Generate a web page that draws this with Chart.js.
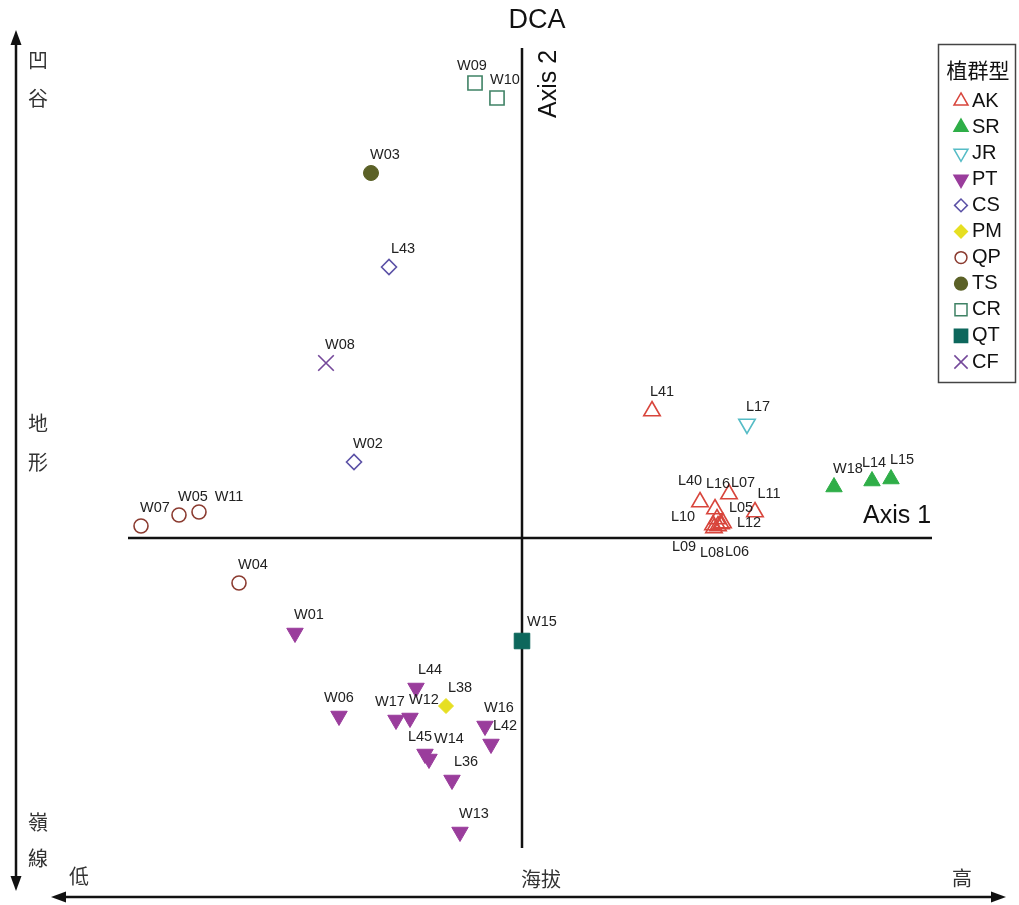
<!DOCTYPE html>
<html lang="zh-Hant">
<head>
<meta charset="UTF-8">
<title>DCA</title>
<script src="https://cdn.jsdelivr.net/npm/chart.js"></script>
<style>
  body { margin: 0; background: #fff; }
  .box { width: 1019px; height: 905px; position: relative; }
</style>
</head>
<body>
<div class="box"><canvas id="grafico_dca"></canvas></div>
<script>
// vegetation types (legend order)
var grupos = ['AK', 'SR', 'JR', 'PT', 'CS', 'PM', 'QP', 'TS', 'CR', 'QT', 'CF'];

// sample plots, their type and the two DCA scores
var parcelas = ['L41', 'L40', 'L16', 'L07', 'L11', 'L05', 'L12', 'L10', 'L09', 'L08', 'L06',
  'W18', 'L14', 'L15', 'L17',
  'W01', 'W06', 'W17', 'W12', 'L44', 'W16', 'L42', 'L45', 'W14', 'L36', 'W13',
  'L43', 'W02', 'L38', 'W07', 'W05', 'W11', 'W04', 'W03', 'W09', 'W10', 'W15', 'W08'];
var tipo = ['AK', 'AK', 'AK', 'AK', 'AK', 'AK', 'AK', 'AK', 'AK', 'AK', 'AK',
  'SR', 'SR', 'SR', 'JR',
  'PT', 'PT', 'PT', 'PT', 'PT', 'PT', 'PT', 'PT', 'PT', 'PT', 'PT',
  'CS', 'CS', 'PM', 'QP', 'QP', 'QP', 'QP', 'TS', 'CR', 'CR', 'QT', 'CF'];
var eixo1 = [1.30, 1.78, 1.93, 2.07, 2.33, 1.95, 2.01, 1.91, 1.92, 1.96, 1.99,
  3.12, 3.50, 3.69, 2.25,
  -2.27, -1.83, -1.26, -1.12, -1.06, -0.37, -0.31, -0.97, -0.93, -0.70, -0.62,
  -1.33, -1.68, -0.76, -3.81, -3.43, -3.23, -2.83, -1.51, -0.47, -0.25, 0.00, -1.96];
var eixo2 = [1.27, 0.36, 0.29, 0.44, 0.26, 0.19, 0.15, 0.13, 0.10, 0.12, 0.14,
  0.51, 0.57, 0.59, 1.14,
  -0.95, -1.78, -1.82, -1.80, -1.50, -1.88, -2.06, -2.16, -2.21, -2.42, -2.94,
  2.71, 0.76, -1.68, 0.12, 0.23, 0.26, -0.45, 3.65, 4.55, 4.40, -1.03, 1.75];

// marker look per type
var estilos = {
  AK: { ps: 'triangle', rot: 0, r: 9.5, cor: '#d8453c', cheio: false },
  SR: { ps: 'triangle', rot: 0, r: 9.5, cor: '#2fae48', cheio: true },
  JR: { ps: 'triangle', rot: 180, r: 9.5, cor: '#56bcc6', cheio: false },
  PT: { ps: 'triangle', rot: 180, r: 9.5, cor: '#9a3d9c', cheio: true },
  CS: { ps: 'rectRot', rot: 0, r: 7.5, cor: '#5b51a6', cheio: false },
  PM: { ps: 'rectRot', rot: 0, r: 7.5, cor: '#e6df22', cheio: true },
  QP: { ps: 'circle', rot: 0, r: 7, cor: '#8b3b30', cheio: false },
  TS: { ps: 'circle', rot: 0, r: 7.5, cor: '#5b6127', cheio: true },
  CR: { ps: 'rect', rot: 0, r: 10, cor: '#3f8265', cheio: false },
  QT: { ps: 'rect', rot: 0, r: 11, cor: '#0d675c', cheio: true },
  CF: { ps: 'crossRot', rot: 0, r: 11, cor: '#74489a', cheio: false }
};

// label nudges (label centre relative to the marker), default below
var deslocPadrao = [14, -18];
var desloc = {
  L40: [-10, -21], L16: [3, -25], L07: [14, -11], L05: [24, -11], L12: [26, 0],
  L10: [-30, -8], L09: [-30, 19], L08: [-6, 27], L06: [16, 28],
  L14: [2, -18], L15: [11, -19], L41: [10, -19], L17: [11, -17],
  W11: [30, -15], W06: [0, -18], W17: [-6, -18], W15: [20, -19],
  W09: [-3, -17], W10: [8, -18], L45: [-5, -17], W14: [20, -20]
};

var datasets = [];
grupos.forEach(function (g) {
  var e = estilos[g];
  var pts = [];
  for (var i = 0; i < parcelas.length; i++) {
    if (tipo[i] == g) pts.push({ x: eixo1[i], y: eixo2[i], nome: parcelas[i] });
  }
  datasets.push({
    type: 'scatter',
    label: g,
    data: pts,
    order: 0,
    pointStyle: e.ps,
    rotation: e.rot,
    pointRadius: e.r,
    pointHoverRadius: e.r,
    backgroundColor: e.cheio ? e.cor : 'rgba(0,0,0,0)',
    borderColor: e.cor,
    borderWidth: e.cheio ? 1 : 1.6
  });
});
// the two ordination axes
datasets.push({
  type: 'line', label: 'Axis 1', order: 1,
  data: [{ x: -3.94, y: 0 }, { x: 4.10, y: 0 }],
  borderColor: '#111', borderWidth: 2.5, pointRadius: 0
});
datasets.push({
  type: 'line', label: 'Axis 2', order: 1,
  data: [{ x: 0, y: 4.90 }, { x: 0, y: -3.10 }],
  borderColor: '#111', borderWidth: 2.5, pointRadius: 0
});

function seta(ctx, x1, y1, x2, y2) {
  var a = Math.atan2(y2 - y1, x2 - x1);
  ctx.beginPath();
  ctx.moveTo(x2, y2);
  ctx.lineTo(x2 - 15 * Math.cos(a) + 5.5 * Math.sin(a), y2 - 15 * Math.sin(a) - 5.5 * Math.cos(a));
  ctx.lineTo(x2 - 15 * Math.cos(a) - 5.5 * Math.sin(a), y2 - 15 * Math.sin(a) + 5.5 * Math.cos(a));
  ctx.closePath();
  ctx.fill();
}

var plugin_desenho = {
  id: 'desenho',
  afterDatasetsDraw: function (chart) {
    var ctx = chart.ctx;
    ctx.save();
    // site labels
    ctx.font = '14.5px "Liberation Sans", Arial, sans-serif';
    ctx.fillStyle = '#222';
    ctx.textAlign = 'center';
    ctx.textBaseline = 'middle';
    chart.data.datasets.forEach(function (ds, di) {
      if (ds.type != 'scatter') return;
      var meta = chart.getDatasetMeta(di);
      meta.data.forEach(function (el, k) {
        var nome = ds.data[k].nome;
        var d = desloc[nome] || deslocPadrao;
        ctx.fillText(nome, el.x + d[0], el.y + d[1]);
      });
    });

    // titles of the axes
    ctx.fillStyle = '#111';
    ctx.font = '27px "Liberation Sans", Arial, sans-serif';
    ctx.fillText('DCA', 537, 21);
    ctx.font = '25px "Liberation Sans", Arial, sans-serif';
    ctx.fillText('Axis 1', 897, 516);
    ctx.save();
    ctx.translate(549, 84);
    ctx.rotate(-Math.PI / 2);
    ctx.fillText('Axis 2', 0, 0);
    ctx.restore();

    // gradient arrows
    ctx.strokeStyle = '#111';
    ctx.fillStyle = '#111';
    ctx.lineWidth = 2.5;
    ctx.beginPath();
    ctx.moveTo(16, 40); ctx.lineTo(16, 882);
    ctx.moveTo(60, 897); ctx.lineTo(997, 897);
    ctx.stroke();
    seta(ctx, 16, 60, 16, 30);
    seta(ctx, 16, 860, 16, 891);
    seta(ctx, 80, 897, 51, 897);
    seta(ctx, 980, 897, 1006, 897);

    ctx.font = '20px "Noto Sans CJK TC", sans-serif';
    ctx.fillStyle = '#333';
    var lado = [['凹', 60], ['谷', 98], ['地', 423], ['形', 462], ['嶺', 822], ['線', 858]];
    lado.forEach(function (t) { ctx.fillText(t[0], 38, t[1]); });
    ctx.fillText('低', 79, 876);
    ctx.fillText('海拔', 541, 879);
    ctx.fillText('高', 962, 878);

    // legend box
    ctx.fillStyle = '#fff';
    ctx.fillRect(938, 44, 78, 339);
    ctx.strokeStyle = '#444';
    ctx.lineWidth = 1.5;
    ctx.strokeRect(938.5, 44.5, 77, 338);
    ctx.fillStyle = '#111';
    ctx.font = '21px "Noto Sans CJK TC", sans-serif';
    ctx.fillText('植群型', 978, 70);
    ctx.textAlign = 'left';
    ctx.font = '20px "Liberation Sans", Arial, sans-serif';
    grupos.forEach(function (g, i) {
      var e = estilos[g];
      var y = 100 + i * 26.1;
      ctx.fillStyle = e.cheio ? e.cor : 'rgba(0,0,0,0)';
      ctx.strokeStyle = e.cor;
      ctx.lineWidth = 1.5;
      Chart.helpers.drawPoint(ctx, {
        pointStyle: e.ps, rotation: e.rot, radius: e.r * 0.85, borderWidth: 1.5
      }, 961, y + 1);
      ctx.fillStyle = '#111';
      ctx.fillText(g, 972, y + 1);
    });
    ctx.restore();
  }
};

var chart = new Chart('grafico_dca', {
  type: 'scatter',
  data: { datasets: datasets },
  options: {
    responsive: true,
    maintainAspectRatio: false,
    animation: false,
    layout: { padding: 0, autoPadding: false },
    plugins: { legend: { display: false }, tooltip: { enabled: false } },
    scales: {
      x: { type: 'linear', min: -5.22, max: 4.97, display: false },
      y: { type: 'linear', min: -3.67, max: 5.38, display: false }
    }
  },
  plugins: [plugin_desenho]
});
</script>
</body>
</html>
